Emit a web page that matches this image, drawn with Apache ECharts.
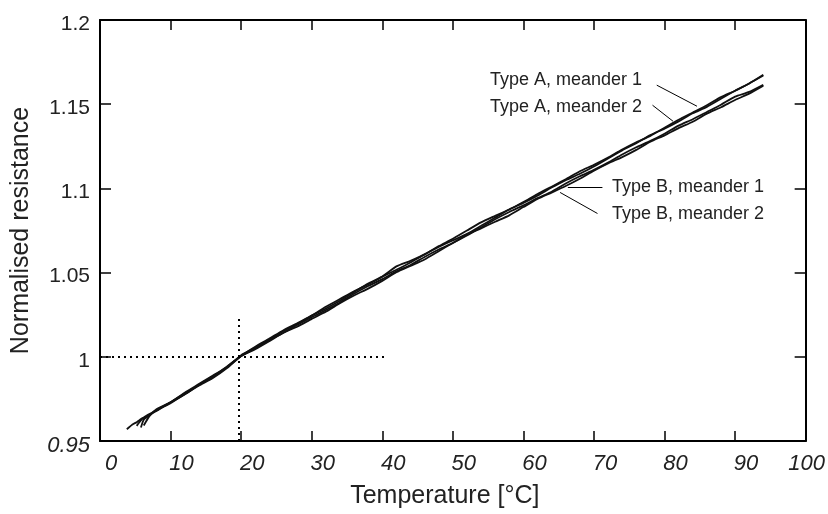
<!DOCTYPE html>
<html>
<head>
<meta charset="utf-8">
<script src="https://cdn.jsdelivr.net/npm/echarts@6/dist/echarts.min.js"></script>
<style>
  html, body { margin: 0; padding: 0; background: #fff; }
  #main { width: 828px; height: 514px; }
</style>
</head>
<body>
<div id="main"></div>
<script>
// temperature in deg C, shared by all four meanders
var temps = [3.8, 4.6, 5.2, 5.8, 6.2, 7,
  8, 10, 12, 14, 16, 18, 20, 22, 24, 26, 28, 30, 32, 34, 36, 38, 40, 42, 44, 46,
  48, 50, 52, 54, 56, 58, 60, 62, 64, 66, 68, 70, 72, 74, 76, 78, 80, 82, 84, 86,
  88, 90, 92, 94];

var typeA1 = [0.957, 0.9598, 0.9612, 0.9630, 0.9640, 0.9660,
  0.9683, 0.9730, 0.9787, 0.9838, 0.9889, 0.9938, 1.0005, 1.0060, 1.0108, 1.0158,
  1.0200, 1.0245, 1.0297, 1.0343, 1.0389, 1.0430, 1.0476, 1.0537, 1.0570, 1.0608,
  1.0657, 1.0701, 1.0750, 1.0798, 1.0837, 1.0875, 1.0919, 1.0967, 1.1010, 1.1054,
  1.1102, 1.1140, 1.1183, 1.1231, 1.1274, 1.1312, 1.1360, 1.1408, 1.1451, 1.1494,
  1.1542, 1.1580, 1.1623, 1.1675];
var typeA2 = [null, null, 0.9590, 0.9622, 0.9636, 0.9656,
  0.9678, 0.9730, 0.9782, 0.9833, 0.9879, 0.9938, 1.0010, 1.0055, 1.0103, 1.0153,
  1.0195, 1.0245, 1.0287, 1.0333, 1.0384, 1.0435, 1.0476, 1.0517, 1.0560, 1.0608,
  1.0652, 1.0691, 1.0730, 1.0778, 1.0827, 1.0875, 1.0914, 1.0957, 1.1005, 1.1049,
  1.1087, 1.1130, 1.1178, 1.1226, 1.1269, 1.1317, 1.1355, 1.1398, 1.1446, 1.1484,
  1.1532, 1.1580, 1.1623, 1.1670];
var typeB1 = [null, null, null, 0.9580, 0.9626, 0.9652,
  0.9683, 0.9725, 0.9777, 0.9833, 0.9884, 0.9943, 1.0005, 1.0050, 1.0098, 1.0143,
  1.0190, 1.0235, 1.0277, 1.0323, 1.0374, 1.0420, 1.0461, 1.0507, 1.0545, 1.0593,
  1.0637, 1.0676, 1.0720, 1.0768, 1.0817, 1.0860, 1.0899, 1.0942, 1.0980, 1.1029,
  1.1072, 1.1110, 1.1153, 1.1201, 1.1244, 1.1282, 1.1325, 1.1373, 1.1411, 1.1454,
  1.1497, 1.1545, 1.1573, 1.1615];
var typeB2 = [null, null, null, null, 0.9592, 0.9648,
  0.9688, 0.9730, 0.9777, 0.9828, 0.9874, 0.9933, 1.0005, 1.0045, 1.0093, 1.0143,
  1.0180, 1.0225, 1.0267, 1.0318, 1.0364, 1.0405, 1.0451, 1.0502, 1.0540, 1.0578,
  1.0627, 1.0676, 1.0725, 1.0763, 1.0802, 1.0840, 1.0889, 1.0937, 1.0975, 1.1014,
  1.1057, 1.1105, 1.1148, 1.1186, 1.1229, 1.1277, 1.1315, 1.1358, 1.1396, 1.1444,
  1.1482, 1.1525, 1.1563, 1.1610];

var seriesNames = ['Type A, meander 1', 'Type A, meander 2', 'Type B, meander 1', 'Type B, meander 2'];

// reference at 20 deg C, R = 1
var refT = 19.7;
var refEndT = 40.6;
var refTopR = 1.0232;

var txt = '#222';
var font = 'Liberation Sans, Arial, sans-serif';

function pairs(vals) {
  return temps.map(function (t, i) { return [t, vals[i]]; });
}

function frameAxis(pos, isX) {
  return {
    type: 'value',
    position: pos,
    min: isX ? 0 : 0.95,
    max: isX ? 100 : 1.2,
    interval: isX ? 10 : 0.05,
    axisLine: { show: true, onZero: false, lineStyle: { color: '#000', width: 2 } },
    axisTick: { show: true, inside: true, length: isX ? 10 : 11, lineStyle: { color: '#000', width: 1.5 } },
    axisLabel: { show: false },
    splitLine: { show: false }
  };
}

var myChart = echarts.init(document.getElementById('main'));

var xBottom = frameAxis('bottom', true);
xBottom.name = 'Temperature [°C]';
xBottom.nameLocation = 'middle';
xBottom.nameGap = 43;
xBottom.nameTextStyle = { fontFamily: font, fontSize: 25, color: txt, padding: [0, 16, 0, 0] };
xBottom.axisLabel = {
  show: true,
  margin: 12,
  formatter: function (v) { return v === 100 ? '{e|100}' : '{n|' + v + '}'; },
  rich: {
    n: { fontFamily: font, fontStyle: 'italic', fontSize: 22, color: txt, padding: [0, 0, 0, 22] },
    e: { fontFamily: font, fontStyle: 'italic', fontSize: 22, color: txt, padding: [0, 0, 0, 2] }
  }
};

var yLeft = frameAxis('left', false);
yLeft.name = 'Normalised resistance';
yLeft.nameLocation = 'middle';
yLeft.nameGap = 66;
yLeft.nameTextStyle = { fontFamily: font, fontSize: 25, color: txt };
yLeft.axisLabel = {
  show: true,
  margin: 10,
  formatter: function (v) {
    var s = String(+v.toFixed(2));
    return v < 0.96 ? '{i|' + s + '}' : '{u|' + s + '}';
  },
  rich: {
    u: { fontFamily: font, fontSize: 21, color: txt, padding: [8, 0, 0, 0] },
    i: { fontFamily: font, fontStyle: 'italic', fontSize: 22, color: txt, padding: [10, 0, 0, 0] }
  }
};

var lineSeries = [typeA1, typeA2, typeB1, typeB2].map(function (vals, k) {
  return {
    name: seriesNames[k],
    type: 'line',
    data: pairs(vals),
    showSymbol: false,
    symbol: 'none',
    smooth: 0.2,
    lineStyle: { color: '#111', width: 1.8 },
    z: 3
  };
});

// dotted reference lines and label leaders
lineSeries[0].markLine = {
  silent: true,
  symbol: ['none', 'none'],
  label: { show: false },
  animation: false,
  lineStyle: { color: '#000', width: 1, type: 'solid' },
  data: [
    [{ coord: [0, 1], lineStyle: { type: [2, 4], width: 2, color: '#000' } }, { coord: [refEndT, 1] }],
    [{ coord: [refT, 0.95], lineStyle: { type: [2, 4], width: 2, color: '#000' } }, { coord: [refT, refTopR] }],
    [{ coord: [78.9, 1.1613] }, { coord: [84.6, 1.1488] }],
    [{ coord: [78.3, 1.1494] }, { coord: [81.2, 1.1399] }],
    [{ coord: [71.2, 1.1006] }, { coord: [66.3, 1.1006] }],
    [{ coord: [70.5, 1.0851] }, { coord: [65.2, 1.0976] }]
  ]
};

var annFont = '18px "Liberation Sans", sans-serif';
function ann(text, x, y) {
  return { type: 'text', x: x, y: y, style: { text: text, font: annFont, fill: txt, verticalAlign: 'middle' } };
}

option = {
  animation: false,
  backgroundColor: '#fff',
  grid: { left: 100, right: 22, top: 20, bottom: 73, containLabel: false },
  xAxis: [xBottom, frameAxis('top', true)],
  yAxis: [yLeft, frameAxis('right', false)],
  series: lineSeries,
  graphic: [
    ann(seriesNames[0], 490, 80),
    ann(seriesNames[1], 490, 107),
    ann(seriesNames[2], 612, 187),
    ann(seriesNames[3], 612, 214)
  ]
};
myChart.setOption(option);
</script>
</body>
</html>
